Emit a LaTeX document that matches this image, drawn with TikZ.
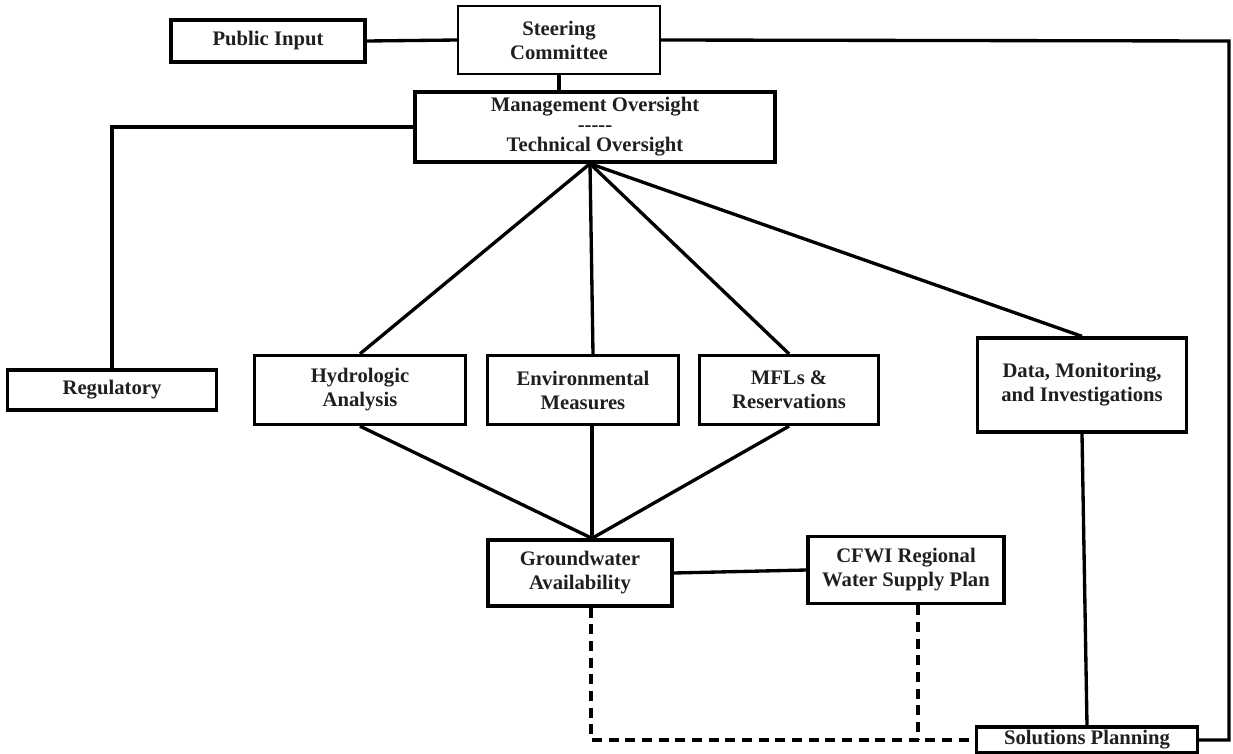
\documentclass[tikz,border=0pt]{standalone}
\usepackage{fontspec}
\setmainfont{Liberation Serif}
\begin{document}
\begin{tikzpicture}[x=0.75pt,y=-0.75pt,
  box/.style 2 args={draw, line width=2.5pt, rectangle, align=center, inner sep=0pt,
    minimum width=#1*0.75pt, minimum height=#2*0.75pt,
    font=\fontsize{15.5}{18}\selectfont\bfseries, text=black!88},
  conn/.style={line width=2.5pt, black},
  dconn/.style={line width=2.6pt, black, dash pattern=on 7.5pt off 5pt}]
\useasboundingbox (0,0) rectangle (1233,754);
\node[box={202}{68}, line width=1.6pt] (steer) at (559,40) {Steering\\Committee};
\node[box={194}{42}] (pub) at (268,41) {Public Input};
\node[box={360}{70}] (mgmt) at (595,127) {Management Oversight\\[-3pt]{-}{-}{-}{-}{-}\\[-3pt]Technical Oversight};
\node[box={209}{40}] (reg) at (112,390) {Regulatory};
\node[box={211}{69}] (hyd) at (360,390) {Hydrologic\\Analysis};
\node[box={191}{69}] (env) at (583,390) {Environmental\\Measures};
\node[box={179}{69}] (mfl) at (789,390) {MFLs \&\\Reservations};
\node[box={209}{94}] (data) at (1082,385) {Data, Monitoring,\\and Investigations};
\node[box={184}{66}] (gw) at (580,573) {Groundwater\\Availability};
\node[box={196}{67}] (cfwi) at (906,570) {CFWI Regional\\Water Supply Plan};
\node[box={221}{26}] (sol) at (1087,740) {Solutions Planning};
\coordinate (rc) at (1229,41);
% top connections
\draw[conn] (pub.east) -- (steer.west);
\draw[conn] (steer.south) -- (steer.south |- mgmt.north);
\draw[conn] (steer.east) -- (rc) |- (sol.east);
\draw[conn] (mgmt.west) -| (reg.north);
% management to workgroups
\draw[conn] ([xshift=-5*0.75pt]mgmt.south) -- (hyd.north);
\draw[conn] ([xshift=-5*0.75pt]mgmt.south) -- ([xshift=10*0.75pt]env.north);
\draw[conn] ([xshift=-5*0.75pt]mgmt.south) -- (mfl.north);
\draw[conn] ([xshift=-5*0.75pt]mgmt.south) -- (data.north);
% workgroups to groundwater
\draw[conn] (hyd.south) -- ([xshift=12*0.75pt]gw.north);
\draw[conn] ([xshift=9*0.75pt]env.south) -- ([xshift=12*0.75pt]gw.north);
\draw[conn] (mfl.south) -- ([xshift=12*0.75pt]gw.north);
\draw[conn] (gw.east) -- (cfwi.west);
\draw[conn] (data.south) -- (sol.north);
% dashed
\draw[dconn] ([xshift=11*0.75pt]gw.south) |- (sol.west);
\draw[dconn] ([xshift=12*0.75pt]cfwi.south) -- ([xshift=12*0.75pt]cfwi.south |- sol.west);
\end{tikzpicture}
\end{document}
